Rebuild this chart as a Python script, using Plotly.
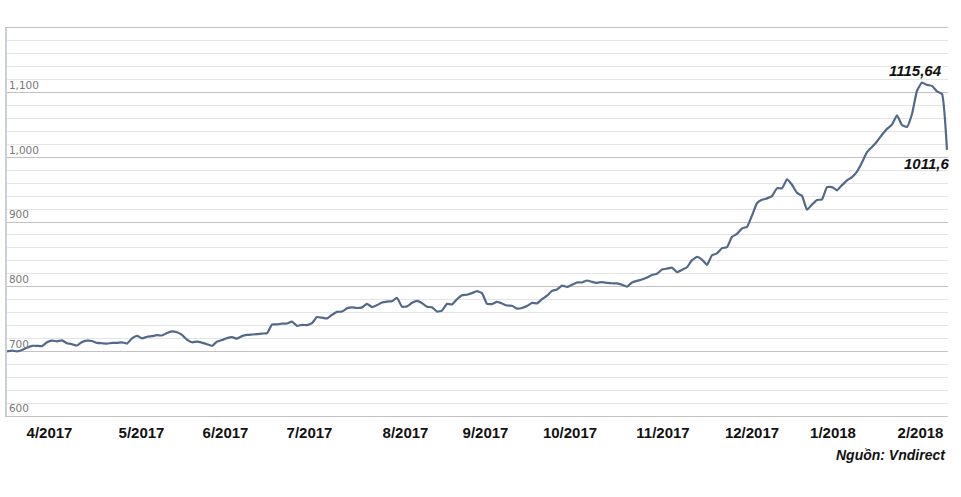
import plotly.graph_objects as go

# VN-Index, one reading per step along the time axis
vnindex = [
    700, 701, 700, 702, 705.5, 708.5, 708.5, 708, 714, 716.5,
    715.5, 717, 712.5, 711, 709, 714.5, 716.5, 716, 713, 712.5,
    712, 713, 713, 714, 712, 720, 724, 720, 722.5, 723.5,
    725, 724.5, 728.5, 731, 729.5, 725.4, 718, 714, 715, 713.5,
    711, 708.5, 715, 717.5, 720.5, 722, 719.5, 723.5, 725.5, 726,
    726.5, 727.5, 728, 741.5, 741.6, 743, 743, 746, 739.3, 741,
    740.5, 743.5, 753, 752, 751, 756.5, 761, 761.5, 766.5, 768,
    767, 768, 773.4, 768.5, 771.5, 775.5, 777, 777.5, 782.7, 769,
    769.5, 775, 778, 774.5, 769, 768, 761.5, 763, 773.4, 772.4,
    780.6, 786.8, 787.5, 790, 793, 790, 773.5, 773, 776.5, 774,
    770.8, 770.5, 766, 767, 770, 775, 774, 780.6, 786, 793.5,
    795.5, 801.7, 799.5, 803, 806.5, 806.5, 809.5, 807.5, 806, 807,
    806, 805.3, 805, 803, 800, 806.5, 809, 811, 814, 818,
    820, 826.5, 828, 829.5, 822.5, 826, 830, 841, 846, 842,
    833.7, 848.5, 851.5, 859.6, 861, 877, 881.5, 890, 892.5, 910,
    929, 934.3, 936.5, 940, 952.4, 952, 966, 957.6, 945, 940.5,
    919, 927, 934, 935, 954, 954, 949, 957, 964.5, 969.5,
    978, 992, 1008, 1016, 1024.5, 1035, 1044, 1050.5, 1065, 1050,
    1047, 1067, 1103, 1115.64, 1112, 1110.5, 1102, 1098, 1011.6,
]
steps = list(range(len(vnindex)))

month_labels = ["4/2017", "5/2017", "6/2017", "7/2017", "8/2017", "9/2017",
                "10/2017", "11/2017", "12/2017", "1/2018", "2/2018"]
month_pos = [8.5, 26.9, 43.7, 60.5, 79.7, 95.7, 112.6, 131.2, 149, 165.2, 182.7]

y_ticks = [600, 700, 800, 900, 1000, 1100, 1200]
y_text = ["600", "700", "800", "900", "1,000", "1,100", ""]

peak_label = "1115,64"
last_label = "1011,6"
source = "Nguồn: Vndirect"

fig = go.Figure()
fig.add_trace(go.Scatter(
    x=steps, y=vnindex, mode="lines",
    line=dict(color="#52698a", width=2.2, shape="spline", smoothing=0.4),
    hoverinfo="skip", showlegend=False,
))

peak_i = vnindex.index(max(vnindex))
fig.add_annotation(x=peak_i, y=vnindex[peak_i], text="<b><i>" + peak_label + "</i></b>",
                   showarrow=False, yshift=12, xshift=-7,
                   font=dict(family="Liberation Sans, Arial", size=15, color="#111"))
fig.add_annotation(x=steps[-1], y=vnindex[-1], text="<b><i>" + last_label + "</i></b>",
                   showarrow=False, yshift=-14, xanchor="right", xshift=4,
                   font=dict(family="Liberation Sans, Arial", size=15, color="#111"))
fig.add_annotation(xref="paper", yref="paper", x=1.0, y=-0.075, xanchor="right", yanchor="top",
                   text="<b><i>" + source + "</i></b>", showarrow=False,
                   font=dict(family="Liberation Sans, Arial", size=14, color="#111"))

fig.update_layout(
    width=961, height=497,
    margin=dict(l=7, r=13, t=28, b=81),
    paper_bgcolor="white", plot_bgcolor="white",
    xaxis=dict(
        range=[0, 188.2], tickvals=month_pos, ticktext=month_labels,
        showgrid=False, zeroline=False, ticks="",
        showline=True, mirror=True, linecolor="#c2c2c2", linewidth=1,
        tickfont=dict(family="Liberation Sans, Arial", size=15, color="#111", weight=700),
        ticklabelstandoff=3,
    ),
    yaxis=dict(
        range=[600, 1200], tickvals=y_ticks, ticktext=y_text,
        ticklabelposition="inside top",
        showgrid=True, gridcolor="#c2c2c2", gridwidth=1,
        minor=dict(dtick=20, tick0=600, showgrid=True, gridcolor="#e4e4e4", gridwidth=1),
        zeroline=False, showline=True, linecolor="#c9ced8", linewidth=2,
        ticks="",
        tickfont=dict(family="DejaVu Sans", size=10.5, color="#777"),
    ),
)

fig.write_html("out.html", config={"displayModeBar": False},
               post_script="document.body.style.margin='0';")
